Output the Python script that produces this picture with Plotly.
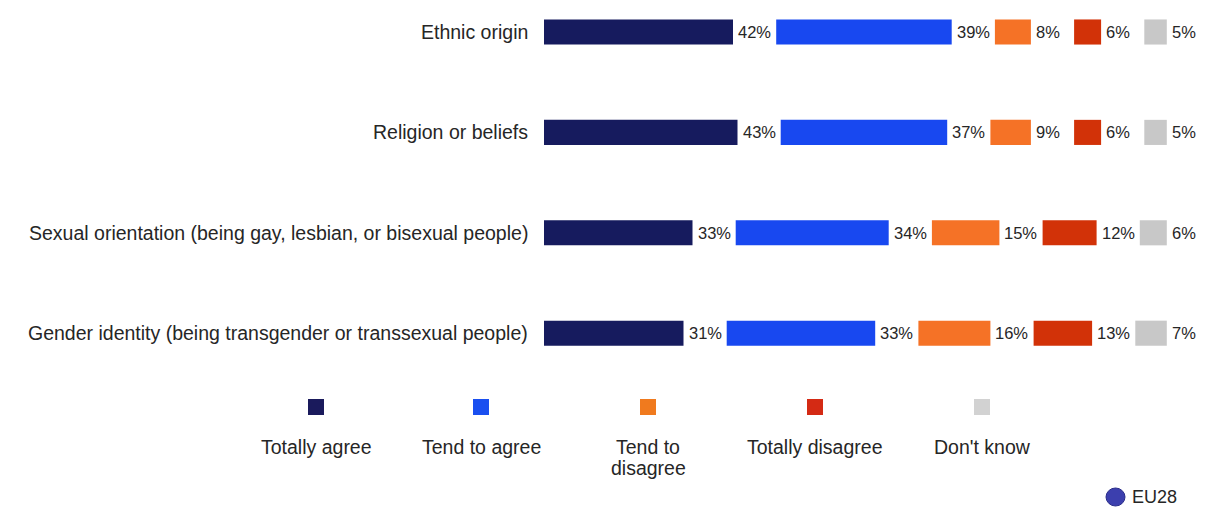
import plotly.graph_objects as go

# Survey results: share of answers per discrimination ground (EU28)
categories = [
    "Ethnic origin",
    "Religion or beliefs",
    "Sexual orientation (being gay, lesbian, or bisexual people)",
    "Gender identity (being transgender or transsexual people)",
]
answers = ["Totally agree", "Tend to agree", "Tend to\ndisagree", "Totally disagree", "Don't know"]
totally_agree = [42, 43, 33, 31]
tend_to_agree = [39, 37, 34, 33]
tend_to_disagree = [8, 9, 15, 16]
totally_disagree = [6, 6, 12, 13]
dont_know = [5, 5, 6, 7]

series = [totally_agree, tend_to_agree, tend_to_disagree, totally_disagree, dont_know]
colors = ["#161b5e", "#1848f0", "#f57226", "#d23208", "#c8c8c8"]
legend_colors = ["#1a1a5c", "#1a4ff0", "#f07a1e", "#d42a14", "#d2d2d2"]

GAP = 9.6          # room left after each segment for its value label (x units)
PX_PER_UNIT = 4.5
W, H = 1210, 508
X0 = 544           # pixel where bars start
ROW_PX = 100.4
TOP_PX = 32

rows = list(range(len(categories)))
font = "Liberation Sans, Arial, sans-serif"
txt = "#262626"

fig = go.Figure()
offsets = [0.0] * len(categories)
for k, (vals, col) in enumerate(zip(series, colors)):
    bases = [offsets[i] for i in rows]
    fig.add_trace(go.Bar(
        y=rows, x=vals, base=bases, orientation="h",
        marker=dict(color=col, line=dict(width=0)),
        width=0.25, showlegend=False, hoverinfo="skip",
    ))
    ends = [b + v for b, v in zip(bases, vals)]
    for i, e, v in zip(rows, ends, vals):
        fig.add_annotation(x=e, y=i, xref="x", yref="y", text=f"{v}%",
                           showarrow=False, xanchor="left", xshift=3,
                           font=dict(family=font, size=16.5, color=txt))
    offsets = [e + GAP for e in ends]

# Category labels, right aligned just left of the bars
for i, c in zip(rows, categories):
    fig.add_annotation(x=0, y=i, xref="x", yref="y", text=c, showarrow=False,
                       xanchor="right", xshift=-14,
                       font=dict(family=font, size=19.5, color=txt))

# Legend: square swatch above each caption (captions may span two lines)
legend_x = [316, 481, 648, 815, 982]
LINE_PX = 21
for lx, name, col in zip(legend_x, answers, legend_colors):
    fig.add_shape(type="rect", xref="paper", yref="paper",
                  x0=(lx - 8) / W, x1=(lx + 8) / W,
                  y0=1 - 415 / H, y1=1 - 399 / H,
                  fillcolor=col, line=dict(width=0))
    for j, line in enumerate(name.split("\n")):
        fig.add_annotation(x=lx / W, y=1 - (447 + j * LINE_PX) / H,
                           xref="paper", yref="paper",
                           text=line, showarrow=False,
                           xanchor="center", yanchor="middle", borderpad=0,
                           font=dict(family=font, size=19.5, color=txt))

# EU28 marker
fig.add_shape(type="circle", xref="paper", yref="paper",
              x0=1106 / W, x1=1125 / W, y0=1 - 506 / H, y1=1 - 488 / H,
              fillcolor="#3c3fae", line=dict(color="#2a2d8a", width=1))
fig.add_annotation(x=1131 / W, y=0, xref="paper", yref="paper",
                   text="EU28", showarrow=False, xanchor="left",
                   yanchor="bottom", borderpad=0,
                   font=dict(family=font, size=18, color=txt))

x_lo = -X0 / PX_PER_UNIT
x_hi = (W - X0) / PX_PER_UNIT
y_lo = -TOP_PX / ROW_PX
y_hi = y_lo + H / ROW_PX

fig.update_layout(
    width=W, height=H, margin=dict(l=0, r=0, t=0, b=0),
    paper_bgcolor="white", plot_bgcolor="white",
    barmode="overlay",
    xaxis=dict(range=[x_lo, x_hi], visible=False, fixedrange=True),
    yaxis=dict(range=[y_hi, y_lo], visible=False, fixedrange=True),
)

fig.write_html("out.html")
